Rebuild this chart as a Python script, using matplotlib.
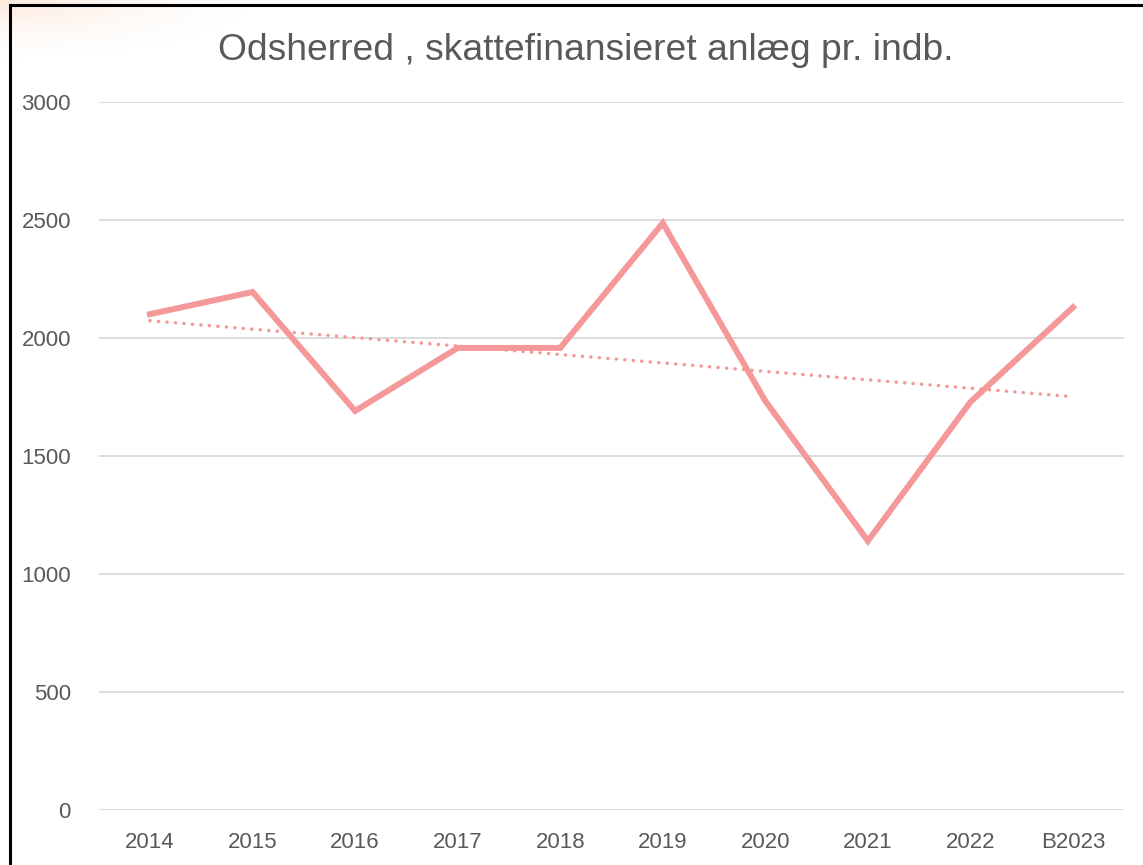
import numpy as np
import matplotlib
matplotlib.use("Agg")
import matplotlib.pyplot as plt
from matplotlib.patches import Rectangle

categories = ["2014", "2015", "2016", "2017", "2018", "2019", "2020", "2021", "2022", "B2023"]
values = [2101, 2195, 1691, 1958, 1958, 2487, 1733, 1140, 1729, 2130]
title = "Odsherred , skattefinansieret anlæg pr. indb."
yticks = [0, 500, 1000, 1500, 2000, 2500, 3000]

plt.rcParams['font.family'] = ['Liberation Sans', 'DejaVu Sans']

W, H = 1143, 865
fig = plt.figure(figsize=(W / 100, H / 100), dpi=100)
fig.patch.set_facecolor("white")

# subtle peach glow in the top-left corner
bg = fig.add_axes([0, 0, 1, 1], zorder=-5)
bg.set_axis_off()
yy, xx = np.mgrid[0:H, 0:W]
d = np.sqrt((xx / 260.0) ** 2 + (yy / 60.0) ** 2)
a = np.clip(1 - d, 0, 1) ** 1.5 * 0.4
img = np.ones((H, W, 4))
img[..., 0] = 0.98
img[..., 1] = 0.80
img[..., 2] = 0.68
img[..., 3] = a
bg.imshow(img, extent=[0, W, H, 0], aspect='auto')
bg.set_xlim(0, W)
bg.set_ylim(H, 0)

# frame
fig.patches.append(Rectangle((10 / W, -0.05), 1.2, (H - 5) / H + 0.05, transform=fig.transFigure,
                             facecolor="none", edgecolor="black", linewidth=2.2, zorder=10))

ax = fig.add_axes([98.7 / W, (H - 810) / H, (1124.3 - 98.7) / W, (810 - 102) / H])
ax.set_facecolor("none")
x = np.arange(len(categories))
line_color = "#F4989A"

ax.plot(x, values, color=line_color, linewidth=4.3, solid_joinstyle="miter", zorder=3)
coef = np.polyfit(x, values, 1)
trend = np.polyval(coef, x)
ax.plot(x, trend, color=line_color, linewidth=2.5, linestyle=(0, (0.05, 2.4)),
        dash_capstyle="round", zorder=2)

ax.set_xlim(-0.5, len(categories) - 0.5)
ax.set_ylim(0, 3000)
ax.set_yticks(yticks)
ax.set_yticklabels([str(t) for t in yticks])
ax.set_xticks(x)
ax.set_xticklabels(categories)
ax.grid(axis="y", color="#D9D9D9", linewidth=1.3)
ax.set_axisbelow(True)
for s in ax.spines.values():
    s.set_visible(False)
ax.tick_params(axis="both", length=0, labelsize=16, labelcolor="#595959")
ax.tick_params(axis="y", pad=20)
ax.tick_params(axis="x", pad=16)

fig.text(586 / W, 1 - 50 / H, title, ha="center", va="center", fontsize=26.8, color="#595959")

fig.savefig("out.png", dpi=100)
